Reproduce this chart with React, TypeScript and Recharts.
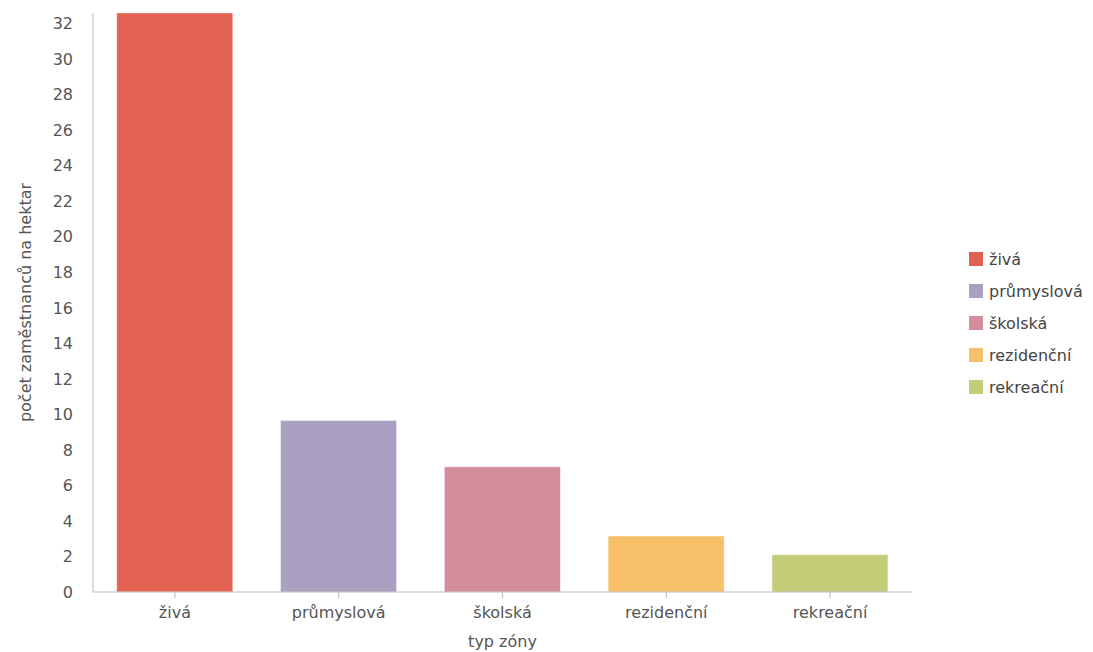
import React from 'react';
import { BarChart, Bar, XAxis, YAxis, Cell, Legend } from 'recharts';

const zones = ['živá', 'průmyslová', 'školská', 'rezidenční', 'rekreační'];
const employeesPerHa = [32.6, 9.65, 7.05, 3.15, 2.1];
const zoneColors = ['#E26150', '#ABA0C1', '#D58C9B', '#F7BF67', '#C3CC77'];
const yTicks = [0, 2, 4, 6, 8, 10, 12, 14, 16, 18, 20, 22, 24, 26, 28, 30, 32];

const data = zones.map((zone, i) => ({ zone, value: employeesPerHa[i] }));

const FONT = '"DejaVu Sans", "Open Sans", sans-serif';

const ZoneLegend = () => (
  <div style={{ paddingLeft: 57, paddingBottom: 14, fontFamily: FONT }}>
    {zones.map((z, i) => (
      <div key={z} style={{ display: 'flex', alignItems: 'center', height: 32 }}>
        <span style={{ width: 14, height: 14, background: zoneColors[i], marginRight: 6 }} />
        <span style={{ fontSize: 16, color: '#444', whiteSpace: 'nowrap' }}>{z}</span>
      </div>
    ))}
  </div>
);

export default function App() {
  return (
    <BarChart
      width={1085}
      height={644}
      data={data}
      margin={{ top: 5, right: 0, bottom: 0, left: 0 }}
      barCategoryGap="14.5%"
      style={{ fontFamily: FONT }}
    >
      <XAxis
        dataKey="zone"
        height={60}
        stroke="#bbb"
        tickSize={6}
        tickMargin={9}
        tick={{ fill: '#555', fontSize: 16 }}
        label={{ value: 'typ zóny', position: 'insideBottom', offset: 5, fill: '#555', fontSize: 16 }}
      />
      <YAxis
        width={85}
        domain={[0, 'dataMax']}
        ticks={yTicks}
        interval={0}
        stroke="#bbb"
        tickLine={false}
        tickSize={0}
        tickMargin={20}
        tick={{ fill: '#555', fontSize: 16 }}
        label={{
          value: 'počet zaměstnanců na hektar',
          angle: -90,
          position: 'insideLeft',
          offset: 17,
          fill: '#555',
          fontSize: 16,
          style: { textAnchor: 'middle' },
        }}
      />
      <Legend layout="vertical" align="right" verticalAlign="middle" width={181} content={<ZoneLegend />} />
      <Bar dataKey="value" isAnimationActive={false} stroke="#fff" strokeOpacity={0.4} strokeWidth={1}>
        {data.map((d, i) => (
          <Cell key={d.zone} fill={zoneColors[i]} />
        ))}
      </Bar>
    </BarChart>
  );
}
